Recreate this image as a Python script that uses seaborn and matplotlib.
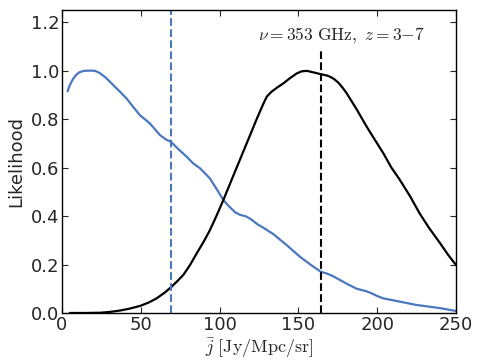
import numpy as np
import pandas as pd
import seaborn as sns
import matplotlib
matplotlib.use('Agg')
from matplotlib import pyplot as plt

# blue curve
blue_x = [3.6, 5, 7, 9, 11, 14, 18, 21, 24, 28, 32.6, 37, 41, 45, 49.5, 55.8, 62.2, 66,
          69.2, 74, 79.1, 83.3, 87.6, 93.9, 98, 102.4, 106, 110, 113, 117, 120.3, 124,
          127.7, 134, 142.6, 151, 158, 164.3, 168, 172, 180, 187, 193, 196.5, 200, 204,
          208, 212, 225, 240, 250]
blue_y = [0.915, 0.94, 0.965, 0.982, 0.993, 0.999, 1.0, 0.999, 0.99, 0.97, 0.94, 0.912,
          0.885, 0.852, 0.816, 0.782, 0.734, 0.716, 0.706, 0.675, 0.645, 0.617, 0.597,
          0.555, 0.513, 0.466, 0.44, 0.415, 0.405, 0.398, 0.385, 0.366, 0.352, 0.326,
          0.28, 0.232, 0.198, 0.17, 0.163, 0.152, 0.123, 0.10, 0.09, 0.081, 0.07, 0.06,
          0.055, 0.05, 0.033, 0.02, 0.008]

# black curve
black_x = [5, 15, 24, 30, 36.8, 43, 49.5, 55, 60, 65, 69.2, 73, 77, 81, 85.5, 90, 93.9,
           98, 102.4, 107, 111, 115, 119, 123.5, 127.7, 130, 133, 136.5, 140.4, 144.5,
           148.9, 152, 155.3, 160, 164.3, 168, 170, 172.5, 175.4, 178, 180.7, 187,
           193.4, 198, 204, 209, 214.5, 221, 227, 233, 240, 245, 250]
black_y = [0.0, 0.0, 0.001, 0.004, 0.01, 0.018, 0.029, 0.043, 0.06, 0.083, 0.106, 0.13,
           0.157, 0.195, 0.246, 0.295, 0.342, 0.4, 0.466, 0.539, 0.602, 0.665, 0.728,
           0.799, 0.862, 0.893, 0.913, 0.93, 0.947, 0.968, 0.988, 0.997, 0.999, 0.992,
           0.985, 0.98, 0.975, 0.966, 0.95, 0.93, 0.906, 0.84, 0.768, 0.72, 0.658, 0.60,
           0.548, 0.48, 0.41, 0.35, 0.287, 0.24, 0.198]

# best values (dashed lines)
blue_best = 69.2
black_best = 164.3
black_best_top = 1.08

blue = '#4a77bd'

sns.set_style('ticks')
plt.rcParams['font.family'] = ['DejaVu Sans']
plt.rcParams['mathtext.fontset'] = 'cm'

fig = plt.figure(figsize=(4.8, 3.6), dpi=100)
ax = fig.add_axes([0.129, 0.1306, 0.821, 0.8416])

df_blue = pd.DataFrame({'j': blue_x, 'L': blue_y})
df_black = pd.DataFrame({'j': black_x, 'L': black_y})
sns.lineplot(data=df_blue, x='j', y='L', color=blue, lw=1.6, ax=ax)
sns.lineplot(data=df_black, x='j', y='L', color='black', lw=1.6, ax=ax)

ax.axvline(blue_best, color=blue, ls='--', lw=1.5)
ax.plot([black_best, black_best], [0, black_best_top], color='black', ls='--', lw=1.5)

ax.text(177.5, 1.125, r'$\nu=353\ \mathrm{GHz},\ z=3{-}7$', ha='center', va='baseline', fontsize=12.5)

ax.set_xlim(0, 250)
ax.set_ylim(0, 1.25)
ax.set_xticks([0, 50, 100, 150, 200, 250])
ax.set_yticks([0.0, 0.2, 0.4, 0.6, 0.8, 1.0, 1.2])
ax.set_xlabel(r'$\bar{j}\ [\mathrm{Jy/Mpc/sr}]$', fontsize=13, labelpad=2)
ax.set_ylabel('Likelihood', fontsize=13, labelpad=4)
ax.tick_params(direction='in', top=True, right=True, labelsize=13, length=4, width=0.8, pad=2)
for s in ax.spines.values():
    s.set_color('black')
    s.set_linewidth(1.0)

fig.savefig('out.png', dpi=100)
